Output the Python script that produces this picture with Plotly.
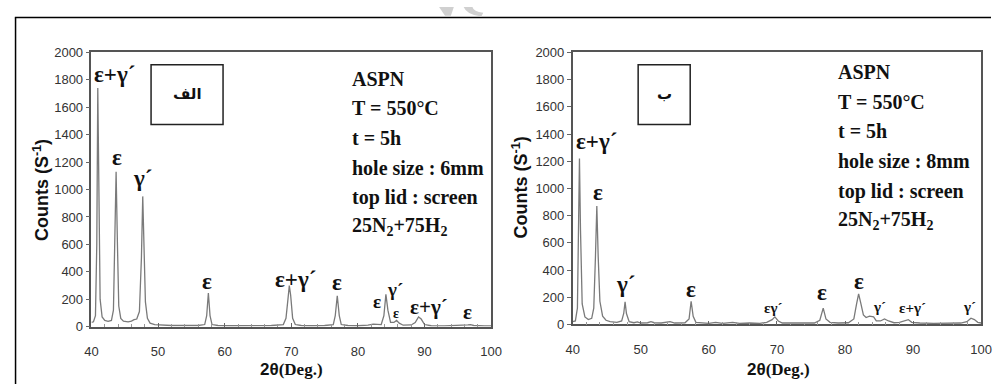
import plotly.graph_objects as go

W, H = 1002, 392

# ---------------- data ----------------
two_theta_a = [40.0, 40.3, 40.6, 40.8, 40.95, 41.1, 41.3, 41.6, 42.0, 42.5, 43.0, 43.3, 43.5, 43.7, 43.9,
               44.1, 44.4, 44.8, 45.5, 46.0, 46.4, 46.8, 47.2, 47.5, 47.7, 47.9, 48.1, 48.4, 48.8, 49.5,
               50.5, 52, 54, 56, 57.0, 57.3, 57.55, 57.8, 58.1, 59, 61, 63, 65, 67, 68.8, 69.2, 69.5,
               69.7, 69.9, 70.2, 70.6, 71.5, 73, 75, 76.3, 76.6, 76.9, 77.2, 77.5, 78.5, 80, 81.5, 82.3,
               82.8, 83.5, 83.9, 84.2, 84.5, 84.9, 85.4, 85.8, 86.2, 86.8, 88.0, 88.6, 89.1, 89.5, 90.0,
               91, 93, 95, 96.5, 96.9, 97.4, 99, 100]
counts_a = [30, 35, 80, 600, 1740, 900, 200, 70, 45, 38, 45, 120, 600, 1130, 600,
            150, 60, 40, 35, 40, 50, 55, 110, 500, 950, 600, 180, 60, 25, 15,
            10, 8, 8, 8, 15, 80, 245, 80, 15, 8, 6, 7, 6, 8, 15, 60, 200,
            300, 230, 60, 15, 8, 6, 8, 15, 80, 225, 80, 15, 8, 6, 10, 18,
            15, 15, 80, 235, 120, 30, 30, 45, 25, 10, 12, 30, 70, 55, 15,
            6, 5, 6, 12, 14, 8, 5, 5]

two_theta_b = [40.0, 40.4, 40.7, 40.9, 41.0, 41.15, 41.4, 41.8, 42.3, 42.8, 43.1, 43.35, 43.55, 43.75,
               44.0, 44.4, 44.9, 45.5, 46.5, 47.2, 47.5, 47.7, 47.9, 48.3, 49, 49.5, 50, 51, 51.5, 52,
               53, 54.3, 55, 56.5, 57.1, 57.4, 57.7, 58.1, 59, 60, 61, 62, 63.5, 64.5, 66, 67.5, 68.5,
               69.3, 69.7, 70.2, 70.8, 72, 74, 75.5, 76.3, 76.8, 77.2, 77.8, 79, 80.5, 81.3, 81.7, 82.0,
               82.3, 82.7, 83.1, 83.6, 84.2, 84.6, 85.2, 85.8, 86.4, 87.2, 88, 88.6, 89.3, 89.8, 91, 93,
               95, 97, 97.9, 98.5, 99, 99.5, 100]
counts_b = [20, 25, 120, 700, 1220, 700, 150, 55, 35, 45, 120, 500, 870, 500,
            170, 60, 30, 20, 15, 25, 80, 165, 80, 20, 12, 18, 10, 12, 20, 12,
            10, 20, 10, 12, 40, 170, 60, 15, 10, 8, 15, 8, 15, 8, 10, 8, 15,
            35, 55, 25, 10, 8, 10, 10, 30, 120, 40, 15, 10, 12, 40, 150, 225,
            160, 70, 50, 60, 55, 25, 25, 40, 25, 12, 15, 25, 35, 15, 10, 8,
            10, 10, 20, 45, 35, 15, 10]

# peak labels: (text, x, y, size)
labels_a = [("ε+γ´", 43.5, 1840, 23), ("ε", 43.8, 1232, 23), ("γ´", 47.7, 1080, 23),
            ("ε", 57.4, 332, 23), ("ε+γ´", 70.6, 344, 23), ("ε", 76.9, 320, 23),
            ("ε", 82.8, 180, 19), ("γ´", 85.6, 274, 19), ("ε", 85.7, 95, 14),
            ("ε+γ´", 90.7, 145, 21), ("ε", 96.4, 110, 21)]
labels_b = [("ε+γ´", 43.5, 1344, 23), ("ε", 43.7, 967, 23), ("γ´", 47.8, 295, 23),
            ("ε", 57.4, 260, 23), ("εγ´", 69.4, 118, 15), ("ε", 76.6, 236, 23),
            ("ε", 82.0, 318, 23), ("γ´", 85.1, 130, 15), ("ε+γ´", 89.9, 118, 15),
            ("γ´", 98.3, 130, 15)]

info_a = ["ASPN", "T = 550°C", "t = 5h", "hole size : 6mm", "top lid : screen", "25N<sub>2</sub>+75H<sub>2</sub>"]
info_b = ["ASPN", "T = 550°C", "t = 5h", "hole size : 8mm", "top lid : screen", "25N<sub>2</sub>+75H<sub>2</sub>"]
panel_tags = ["الف", "ب"]
y_ticks = [0, 200, 400, 600, 800, 1000, 1200, 1400, 1600, 1800, 2000]
x_ticks = [40, 50, 60, 70, 80, 90, 100]

# ---------------- layout helpers (page pixel -> paper fraction) ----------------
def px_x(p):
    return p / W

def px_y(p):
    return 1 - p / H

fig = go.Figure()
fig.add_trace(go.Scatter(x=two_theta_a, y=counts_a, mode="lines", xaxis="x", yaxis="y",
                         line=dict(color="#7a7a7a", width=1.3), showlegend=False, hoverinfo="skip"))
fig.add_trace(go.Scatter(x=two_theta_b, y=counts_b, mode="lines", xaxis="x2", yaxis="y2",
                         line=dict(color="#7a7a7a", width=1.3), showlegend=False, hoverinfo="skip"))

tickfont = dict(family="Liberation Sans, Arial", size=13, color="#333")
axis_common_x = dict(range=[40, 100], tickvals=x_ticks, ticks="inside", ticklen=4, tickcolor="#666",
                     showline=True, mirror=True, linecolor="#555", linewidth=1.5, showgrid=False,
                     zeroline=False, tickfont=tickfont, ticklabelstandoff=12,
                     minor=dict(dtick=2, ticks="inside", ticklen=3, tickcolor="#999"))
axis_common_y = dict(range=[0, 2000], tickvals=y_ticks, ticks="outside", ticklen=4, tickcolor="#666",
                     showline=True, mirror=True, linecolor="#555", linewidth=1.5, showgrid=False,
                     zeroline=False, tickfont=tickfont)

fig.update_layout(
    width=W, height=H, margin=dict(l=0, r=0, t=0, b=0),
    paper_bgcolor="white", plot_bgcolor="white",
    xaxis=dict(domain=[px_x(86), px_x(493)], anchor="y", **axis_common_x),
    yaxis=dict(domain=[px_y(332.3), px_y(47.3)], anchor="x", **axis_common_y),
    xaxis2=dict(domain=[px_x(576), px_x(992)], anchor="y2", **axis_common_x),
    yaxis2=dict(domain=[px_y(330), px_y(47.3)], anchor="x2", **axis_common_y),
)

ann = []
serif = "Liberation Serif, Times New Roman"
for (labels, xr, yr) in [(labels_a, "x", "y"), (labels_b, "x2", "y2")]:
    for t, x, y, s in labels:
        ann.append(dict(text="<b>%s</b>" % t, x=x, y=y, xref=xr, yref=yr, showarrow=False,
                        xanchor="center", yanchor="middle",
                        font=dict(family=serif, size=s, color="#111")))

# info text blocks
for info, x0, ytops in [(info_a, 349, [75, 105.5, 136.5, 167, 198, 228.5]),
                        (info_b, 844, [67.3, 98.3, 129.3, 160, 191.7, 221.7])]:
    for line, yp in zip(info, ytops):
        ann.append(dict(text="<b>%s</b>" % line, x=px_x(x0), y=px_y(yp), xref="paper", yref="paper",
                        xanchor="left", yanchor="middle", showarrow=False,
                        font=dict(family=serif, size=20, color="#111")))

# panel tags in boxes
shapes = []
for tag, (x0, y0, x1, y1) in zip(panel_tags, [(146.7, 60, 220, 122.3), (642.7, 60, 695.7, 122.3)]):
    shapes.append(dict(type="rect", xref="paper", yref="paper", x0=px_x(x0), x1=px_x(x1),
                       y0=px_y(y1), y1=px_y(y0), line=dict(color="#222", width=1.5)))
    ann.append(dict(text="<b>%s</b>" % tag, x=px_x((x0 + x1) / 2), y=px_y(90), xref="paper", yref="paper",
                    xanchor="center", yanchor="middle", showarrow=False,
                    font=dict(family="DejaVu Sans", size=15, color="#111")))

# axis titles
for cx, cy in [(290, 377), (786, 377)]:
    ann.append(dict(text="<b>2θ</b><b><span style='font-family:Liberation Serif'>(Deg.)</span></b>",
                    x=px_x(cx), y=px_y(cy), xref="paper", yref="paper", showarrow=False,
                    xanchor="center", yanchor="middle",
                    font=dict(family="Liberation Sans, Arial", size=17, color="#111")))
for cx, cy in [(35, 190), (523, 188)]:
    ann.append(dict(text="<b>Counts (S<sup>-1</sup>)</b>", x=px_x(cx), y=px_y(cy), xref="paper", yref="paper",
                    showarrow=False, textangle=-90, xanchor="center", yanchor="middle",
                    font=dict(family="Liberation Sans, Arial", size=18, color="#111")))

# outer frame lines
shapes.append(dict(type="line", xref="paper", yref="paper", x0=px_x(8.7), x1=px_x(8.7), y0=0, y1=px_y(11),
                   line=dict(color="black", width=1.5)))
shapes.append(dict(type="line", xref="paper", yref="paper", x0=px_x(8), x1=1, y0=px_y(11), y1=px_y(11),
                   line=dict(color="black", width=1.5)))

# faint watermark strokes at the top edge
shapes.append(dict(type="path", xref="paper", yref="paper",
                   path="M %f %f L %f %f L %f %f L %f %f Z" % (px_x(440), px_y(0), px_x(455), px_y(0),
                                                               px_x(452), px_y(9), px_x(446), px_y(9)),
                   fillcolor="#d0d0d0", line=dict(width=0)))
shapes.append(dict(type="path", xref="paper", yref="paper",
                   path="M %f %f Q %f %f %f %f L %f %f Q %f %f %f %f Z" % (
                       px_x(465), px_y(0), px_x(468), px_y(8), px_x(483), px_y(10),
                       px_x(485), px_y(6), px_x(475), px_y(5), px_x(474), px_y(0)),
                   fillcolor="#d0d0d0", line=dict(width=0)))

fig.update_layout(annotations=ann, shapes=shapes)
fig.write_html("out.html", config={"displayModeBar": False},
               post_script="document.body.style.margin='0';")
